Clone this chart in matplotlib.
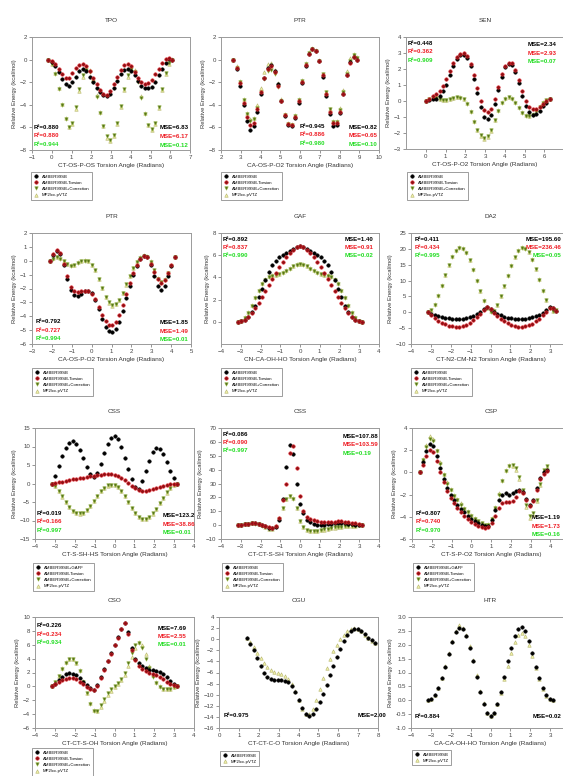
import matplotlib
matplotlib.use('Agg')
import matplotlib.pyplot as plt

plt.rcParams['font.family'] = ['Liberation Sans', 'DejaVu Sans']

# ---------------- data (torsion angle in radians, energy in kcal/mol) ----------------
x_pi = [-3.14, -2.97, -2.79, -2.62, -2.44, -2.27, -2.09, -1.92, -1.75, -1.57, -1.40, -1.22,
        -1.05, -0.87, -0.70, -0.52, -0.35, -0.17, 0.00, 0.17, 0.35, 0.52, 0.70, 0.87, 1.05,
        1.22, 1.40, 1.57, 1.75, 1.92, 2.09, 2.27, 2.44, 2.62, 2.79, 2.97, 3.14]

tpo_x = [-0.17, 0.00, 0.17, 0.35, 0.52, 0.70, 0.87, 1.05, 1.22, 1.40, 1.57, 1.75, 1.92, 2.09,
         2.27, 2.44, 2.62, 2.79, 2.97, 3.14, 3.32, 3.49, 3.67, 3.84, 4.01, 4.19, 4.36, 4.54,
         4.71, 4.89, 5.06, 5.24, 5.41, 5.59, 5.76, 5.93, 6.11]
tpo_amber = [0.0, -0.2, -0.6, -1.1, -1.7, -2.2, -2.3, -2.0, -1.5, -1.0, -0.85, -1.0, -1.5, -2.0,
             -2.5, -2.9, -3.15, -3.25, -3.0, -2.5, -1.9, -1.3, -0.95, -0.85, -1.0, -1.4, -1.9,
             -2.3, -2.5, -2.55, -2.45, -2.0, -1.4, -0.8, -0.3, 0.05, -0.05]
tpo_tors = [0.0, -0.1, -0.4, -0.8, -1.3, -1.65, -1.6, -1.2, -0.75, -0.45, -0.35, -0.55, -1.0,
            -1.6, -2.2, -2.7, -3.05, -3.1, -2.8, -2.2, -1.5, -0.9, -0.45, -0.35, -0.6, -1.1,
            -1.6, -2.0, -2.15, -2.1, -1.8, -1.3, -0.8, -0.3, 0.05, 0.15, 0.0]
tpo_corr = [0.0, -0.4, -1.3, -2.6, -4.0, -5.3, -6.0, -5.6, -4.2, -2.6, -1.4, -0.9, -1.1, -2.0,
            -3.3, -4.7, -5.9, -6.8, -7.1, -6.7, -5.6, -4.1, -2.6, -1.4, -0.85, -1.1, -2.0, -3.4,
            -4.8, -5.8, -6.1, -5.6, -4.2, -2.6, -1.2, -0.3, 0.0]
tpo_mp2 = [0.0, -0.35, -1.2, -2.5, -3.9, -5.2, -6.0, -5.7, -4.4, -2.8, -1.5, -0.8, -0.9, -1.8,
           -3.1, -4.6, -5.9, -6.9, -7.2, -6.8, -5.7, -4.2, -2.7, -1.5, -0.8, -0.9, -1.8, -3.2,
           -4.7, -5.8, -6.2, -5.7, -4.3, -2.7, -1.3, -0.35, 0.05]

ptr_x = [2.62, 2.79, 2.97, 3.14, 3.32, 3.49, 3.67, 3.84, 4.01, 4.19, 4.36, 4.54, 4.71, 4.89,
         5.06, 5.24, 5.41, 5.59, 5.76, 5.93, 6.11, 6.28, 6.46, 6.63, 6.81, 6.98, 7.16, 7.33,
         7.50, 7.68, 7.85, 8.03, 8.20, 8.38, 8.55, 8.73, 8.90]
ptr_amber = [0.0, -0.8, -2.3, -4.0, -5.4, -6.2, -5.9, -4.6, -3.0, -1.6, -0.7, -0.5, -1.0, -2.2,
             -3.7, -5.0, -5.8, -5.9, -5.2, -3.8, -2.1, -0.6, 0.5, 0.95, 0.8, -0.1, -1.5, -3.2,
             -4.8, -5.9, -5.8, -4.7, -3.0, -1.4, -0.2, 0.2, 0.0]
ptr_tors = [0.0, -0.7, -2.1, -3.8, -5.1, -5.8, -5.6, -4.4, -2.9, -1.6, -0.8, -0.6, -1.1, -2.3,
            -3.7, -4.9, -5.7, -5.8, -5.1, -3.7, -2.0, -0.5, 0.5, 0.9, 0.75, -0.1, -1.4, -3.0,
            -4.6, -5.6, -5.6, -4.6, -3.0, -1.4, -0.3, 0.2, 0.0]
ptr_corr = [0.0, -0.7, -2.0, -3.6, -4.8, -5.4, -5.3, -4.3, -2.9, -1.7, -1.0, -0.9, -1.3, -2.4,
            -3.7, -4.9, -5.7, -5.8, -5.0, -3.6, -1.9, -0.4, 0.6, 0.95, 0.8, -0.1, -1.3, -2.9,
            -4.4, -5.5, -5.5, -4.5, -2.9, -1.3, -0.1, 0.4, 0.1]
ptr_mp2 = [0.0, -0.6, -1.9, -3.5, -4.7, -5.3, -5.2, -4.0, -2.5, -1.1, -0.4, -0.3, -0.9, -2.1,
           -3.5, -4.8, -5.6, -5.7, -4.9, -3.5, -1.8, -0.3, 0.7, 1.0, 0.85, 0.0, -1.3, -2.9,
           -4.4, -5.4, -5.4, -4.3, -2.7, -1.0, 0.1, 0.5, 0.2]

sen_x = [0.00, 0.17, 0.35, 0.52, 0.70, 0.87, 1.05, 1.22, 1.40, 1.57, 1.75, 1.92, 2.09, 2.27,
         2.44, 2.62, 2.79, 2.97, 3.14, 3.32, 3.49, 3.67, 3.84, 4.01, 4.19, 4.36, 4.54, 4.71,
         4.89, 5.06, 5.24, 5.41, 5.59, 5.76, 5.93, 6.11, 6.28]
sen_amber = [0.0, 0.05, 0.1, 0.15, 0.3, 0.6, 1.0, 1.6, 2.2, 2.6, 2.85, 2.9, 2.7, 2.2, 1.4, 0.5,
             -0.4, -1.0, -1.15, -0.9, -0.2, 0.7, 1.5, 2.1, 2.3, 2.25, 1.8, 1.1, 0.3, -0.3,
             -0.7, -0.85, -0.8, -0.6, -0.3, -0.1, 0.1]
sen_tors = [0.0, 0.15, 0.3, 0.45, 0.65, 0.95, 1.35, 1.9, 2.4, 2.75, 2.95, 3.0, 2.8, 2.3, 1.6,
            0.8, 0.0, -0.55, -0.7, -0.5, 0.1, 0.9, 1.7, 2.2, 2.4, 2.35, 1.95, 1.3, 0.6, 0.0,
            -0.35, -0.5, -0.5, -0.4, -0.2, 0.0, 0.1]
sen_corr = [0.0, 0.1, 0.2, 0.2, 0.12, 0.05, 0.05, 0.1, 0.18, 0.22, 0.2, 0.1, -0.2, -0.7, -1.3,
            -1.8, -2.15, -2.3, -2.2, -1.8, -1.2, -0.6, -0.1, 0.15, 0.22, 0.15, -0.1, -0.45,
            -0.75, -0.92, -0.95, -0.85, -0.6, -0.35, -0.1, 0.05, 0.12]
sen_mp2 = [0.0, 0.12, 0.22, 0.22, 0.15, 0.07, 0.06, 0.12, 0.2, 0.25, 0.22, 0.12, -0.15, -0.65,
           -1.25, -1.8, -2.2, -2.35, -2.25, -1.85, -1.2, -0.55, -0.05, 0.2, 0.25, 0.18, -0.05,
           -0.4, -0.7, -0.9, -0.95, -0.8, -0.55, -0.3, -0.05, 0.08, 0.15]

ptr2_x = [-2.09, -1.92, -1.75, -1.57, -1.40, -1.22, -1.05, -0.87, -0.70, -0.52, -0.35, -0.17,
          0.00, 0.17, 0.35, 0.52, 0.70, 0.87, 1.05, 1.22, 1.40, 1.57, 1.75, 1.92, 2.09, 2.27,
          2.44, 2.62, 2.79, 2.97, 3.14, 3.32, 3.49, 3.67, 3.84, 4.01, 4.19]
ptr2_amber = [0.0, 0.45, 0.7, 0.5, -0.3, -1.3, -2.1, -2.45, -2.55, -2.4, -2.2, -2.15, -2.35,
              -2.8, -3.5, -4.2, -4.75, -5.05, -5.1, -4.9, -4.4, -3.6, -2.7, -1.8, -1.0, -0.35,
              0.1, 0.35, 0.3, -0.3, -1.1, -1.8, -2.1, -1.8, -1.1, -0.4, 0.25]
ptr2_tors = [0.0, 0.5, 0.75, 0.55, -0.2, -1.1, -1.9, -2.2, -2.25, -2.2, -2.15, -2.2, -2.4,
             -2.75, -3.3, -3.9, -4.35, -4.6, -4.6, -4.4, -3.9, -3.2, -2.4, -1.6, -0.9, -0.3,
             0.15, 0.35, 0.3, -0.2, -0.8, -1.35, -1.6, -1.4, -0.9, -0.3, 0.25]
ptr2_corr = [0.0, 0.15, 0.25, 0.15, -0.05, -0.25, -0.35, -0.3, -0.15, -0.05, 0.0, -0.05, -0.3,
             -0.7, -1.3, -1.95, -2.6, -3.0, -3.2, -3.1, -2.8, -2.3, -1.7, -1.1, -0.55, -0.1,
             0.2, 0.35, 0.3, -0.1, -0.7, -1.3, -1.55, -1.4, -0.9, -0.35, 0.25]
ptr2_mp2 = [0.0, 0.18, 0.28, 0.18, -0.02, -0.22, -0.32, -0.28, -0.12, -0.02, 0.02, -0.03, -0.28,
            -0.68, -1.28, -1.95, -2.6, -3.05, -3.25, -3.15, -2.85, -2.35, -1.75, -1.1, -0.5,
            -0.05, 0.25, 0.4, 0.35, -0.05, -0.65, -1.25, -1.5, -1.35, -0.85, -0.3, 0.3]

gaf_amber = [0.0, 0.05, 0.2, 0.45, 0.85, 1.4, 2.2, 3.0, 3.8, 4.5, 5.1, 5.5, 5.8, 6.0, 6.2, 6.4,
             6.6, 6.75, 6.8, 6.75, 6.6, 6.4, 6.2, 6.0, 5.8, 5.5, 5.1, 4.5, 3.8, 3.0, 2.2, 1.4,
             0.85, 0.45, 0.2, 0.05, 0.0]
gaf_tors = [0.0, 0.05, 0.2, 0.45, 0.8, 1.2, 1.7, 2.2, 2.75, 3.35, 3.9, 4.4, 4.9, 5.4, 5.85, 6.2,
            6.5, 6.7, 6.8, 6.7, 6.5, 6.2, 5.85, 5.4, 4.9, 4.4, 3.9, 3.35, 2.75, 2.2, 1.7, 1.2,
            0.8, 0.45, 0.2, 0.05, 0.0]
gaf_corr = [0.0, 0.1, 0.35, 0.8, 1.4, 2.1, 2.8, 3.4, 3.8, 4.0, 4.1, 4.2, 4.3, 4.4, 4.6, 4.8,
            5.0, 5.15, 5.2, 5.15, 5.0, 4.8, 4.6, 4.4, 4.3, 4.2, 4.1, 4.0, 3.8, 3.4, 2.8, 2.1,
            1.4, 0.8, 0.35, 0.1, 0.0]
gaf_mp2 = [0.0, 0.1, 0.4, 0.85, 1.5, 2.2, 2.9, 3.5, 3.9, 4.1, 4.2, 4.25, 4.3, 4.45, 4.65, 4.85,
           5.05, 5.2, 5.25, 5.2, 5.05, 4.85, 4.65, 4.45, 4.3, 4.25, 4.2, 4.1, 3.9, 3.5, 2.9,
           2.2, 1.5, 0.85, 0.4, 0.1, 0.0]

da2_x = [-3.14, -2.97, -2.79, -2.62, -2.44, -2.27, -2.09, -1.92, -1.75, -1.57, -1.40, -1.22,
         -1.05, -0.87, -0.70, -0.52, -0.35, -0.17, 0.00, 0.17, 0.35, 0.52, 0.70, 0.87, 1.05,
         1.22, 1.40, 1.57, 1.75, 1.92, 2.09, 2.27, 2.44, 2.62, 2.79, 2.97, 3.14, 3.32]
da2_amber = [0.0, -0.45, -0.85, -1.2, -1.5, -1.75, -1.95, -2.1, -2.2, -2.2, -2.1, -1.9, -1.6,
             -1.15, -0.6, 0.1, 0.9, 1.8, 1.0, 0.1, -0.5, -1.0, -1.4, -1.7, -1.95, -2.1, -2.2,
             -2.2, -2.1, -1.9, -1.6, -1.2, -0.7, -0.1, 0.7, 1.6, 1.4, 0.5]
da2_tors = [0.0, -0.9, -1.8, -2.6, -3.3, -3.8, -4.2, -4.45, -4.55, -4.5, -4.3, -3.9, -3.3, -2.5,
            -1.6, -0.5, 0.6, 1.7, 1.0, -0.1, -1.1, -2.0, -2.8, -3.4, -3.9, -4.3, -4.5, -4.55,
            -4.4, -4.1, -3.6, -2.9, -2.0, -1.0, 0.2, 1.5, 1.3, 0.4]
da2_corr = [0.0, 0.6, 2.4, 5.2, 8.4, 11.7, 14.9, 17.5, 19.4, 20.3, 20.0, 18.7, 16.4, 13.4, 10.0,
            6.6, 3.6, 1.3, 0.2, 0.5, 2.2, 5.0, 8.2, 11.5, 14.7, 17.3, 19.3, 20.3, 20.1, 18.9,
            16.6, 13.6, 10.2, 6.8, 3.8, 1.5, 0.3, 0.6]
da2_mp2 = [0.0, 0.7, 2.6, 5.4, 8.6, 11.9, 15.0, 17.7, 19.6, 20.5, 20.2, 18.9, 16.6, 13.6, 10.2,
           6.8, 3.8, 1.5, 0.3, 0.6, 2.4, 5.2, 8.4, 11.7, 14.9, 17.5, 19.5, 20.5, 20.3, 19.1,
           16.8, 13.8, 10.4, 7.0, 4.0, 1.7, 0.4, 0.7]

css_amber = [0.0, 2.0, 4.7, 7.4, 9.6, 11.0, 11.5, 10.8, 9.1, 6.8, 4.4, 2.5, 1.7, 2.9, 5.4, 8.3,
             10.8, 12.4, 12.8, 12.0, 9.9, 7.0, 3.9, 1.1, -1.0, -1.4, 0.6, 3.4, 6.2, 8.4, 9.5,
             9.3, 7.9, 5.8, 3.5, 1.4, 0.0]
css_tors = [0.0, 0.15, 0.3, 0.5, 0.7, 0.9, 1.1, 1.3, 1.45, 1.6, 1.75, 1.9, 2.05, 2.2, 2.35,
            2.45, 2.5, 2.45, 2.3, 2.0, 1.5, 0.9, 0.2, -0.6, -1.3, -1.8, -2.0, -2.0, -1.8, -1.5,
            -1.2, -0.9, -0.6, -0.4, -0.2, -0.1, 0.0]
css_corr = [0.0, -0.7, -2.0, -3.5, -5.0, -6.3, -7.3, -7.9, -8.1, -7.9, -7.2, -6.1, -4.8, -3.4,
            -2.1, -1.1, -0.5, -0.3, -0.45, -1.0, -2.0, -3.4, -5.0, -6.6, -8.0, -9.0, -9.6,
            -9.6, -9.1, -8.1, -6.8, -5.3, -3.8, -2.4, -1.2, -0.4, 0.0]
css_mp2 = [0.0, -0.75, -2.05, -3.55, -5.05, -6.35, -7.35, -7.95, -8.15, -7.95, -7.25, -6.15,
           -4.85, -3.45, -2.15, -1.15, -0.55, -0.3, -0.45, -1.05, -2.05, -3.45, -5.05, -6.65,
           -8.05, -9.05, -9.65, -9.65, -9.15, -8.15, -6.85, -5.35, -3.85, -2.45, -1.25, -0.45,
           0.0]

css2_amber = [0.0, 0.2, 0.5, 0.9, 1.2, 1.2, 0.9, 0.2, -0.8, -1.8, -2.2, -1.0, 4.0, 19.0, 42.0,
              58.0, 51.0, 30.0, 15.0, 9.0, 4.0, 2.0, 0.8, 0.4, 0.3, 0.4, 0.6, 0.9, 1.2, 1.4,
              1.4, 1.3, 1.0, 0.7, 0.4, 0.2, 0.0]
css2_tors = [0.0, 0.3, 0.7, 1.1, 1.4, 1.4, 1.1, 0.4, -0.6, -1.5, -1.8, -0.5, 5.0, 18.0, 30.0,
             52.0, 57.0, 41.0, 21.0, 10.5, 6.0, 4.5, 3.6, 3.0, 2.6, 2.4, 2.3, 2.4, 2.6, 2.8,
             2.8, 2.6, 2.2, 1.7, 1.2, 0.6, 0.1]
css2_corr = [0.0, 0.3, 0.6, 1.0, 1.2, 1.1, 0.6, -0.3, -1.5, -2.6, -2.9, -1.0, 4.5, 12.0, 18.5,
             21.0, 19.0, 12.0, 3.0, -1.5, -3.5, -4.3, -4.4, -4.1, -3.6, -3.1, -2.6, -2.1,
             -1.7, -1.3, -1.0, -0.8, -0.6, -0.4, -0.3, -0.1, 0.0]
css2_mp2 = [0.0, 0.3, 0.7, 1.0, 1.3, 1.2, 0.7, -0.2, -1.4, -2.5, -2.8, -0.8, 5.0, 12.5, 19.0,
            21.3, 19.2, 12.0, 2.8, -1.7, -3.6, -4.4, -4.5, -4.2, -3.7, -3.2, -2.7, -2.2, -1.8,
            -1.4, -1.1, -0.9, -0.7, -0.5, -0.3, -0.15, 0.0]

csp_x = [-2.62, -2.44, -2.27, -2.09, -1.92, -1.75, -1.57, -1.40, -1.22, -1.05, -0.87, -0.70,
         -0.52, -0.35, -0.17, 0.00, 0.17, 0.35, 0.52, 0.70, 0.87, 1.05, 1.22, 1.40, 1.57, 1.75,
         1.92, 2.09, 2.27, 2.44, 2.62, 2.79, 2.97, 3.14, 3.32, 3.49, 3.67, 3.84]
csp_amber = [0.0, 0.9, 1.9, 2.6, 2.4, 1.5, 0.4, -0.6, -1.4, -2.0, -2.5, -2.9, -3.3, -3.6, -3.9,
             -4.2, -4.4, -4.6, -4.75, -4.85, -4.8, -4.3, -3.4, -2.5, -2.0, -1.9, -2.0, -1.9,
             -1.7, -1.6, -1.8, -2.4, -2.9, -2.5, -1.4, -0.5, 0.0, 0.2]
csp_tors = [0.0, 0.7, 1.5, 2.0, 1.8, 1.0, 0.0, -0.9, -1.7, -2.3, -2.8, -3.2, -3.6, -3.9, -4.2,
            -4.45, -4.65, -4.8, -4.9, -5.0, -4.95, -4.6, -3.9, -3.2, -2.8, -2.7, -2.7, -2.6,
            -2.2, -1.7, -1.9, -2.5, -3.0, -2.6, -1.6, -0.6, -0.1, 0.1]
csp_corr = [0.0, 1.1, 2.3, 3.0, 2.8, 1.9, 0.8, -0.2, -1.0, -1.6, -2.1, -2.5, -2.9, -3.3, -3.6,
            -3.9, -4.2, -4.4, -4.6, -4.75, -4.7, -4.2, -3.2, -2.0, -0.8, 0.1, 0.6, 0.7, 0.4,
            -0.4, -1.6, -2.9, -3.9, -3.7, -2.5, -1.0, 0.2, 0.6]
csp_mp2 = [0.0, 1.2, 2.5, 3.3, 3.0, 2.0, 0.9, -0.1, -0.9, -1.5, -2.0, -2.4, -2.8, -3.2, -3.5,
           -3.8, -4.1, -4.35, -4.55, -4.7, -4.65, -4.1, -3.1, -1.9, -0.7, 0.2, 0.65, 0.6, 0.2,
           -0.6, -1.8, -3.1, -4.1, -3.8, -2.6, -1.1, 0.1, 0.5]

cso_amber = [0.0, 0.4, 0.9, 1.4, 1.75, 1.9, 1.85, 1.6, 1.2, 0.7, 0.2, -0.3, -0.5, 0.2, 1.3, 2.5,
             3.7, 4.8, 6.0, 7.1, 8.2, 9.2, 7.8, 5.5, 4.0, 3.3, 2.9, 2.6, 2.4, 2.3, 2.2, 2.1,
             1.8, 1.3, 0.8, 0.3, 0.0]
cso_tors = [0.0, 0.3, 0.6, 0.9, 1.1, 1.2, 1.15, 1.0, 0.7, 0.3, -0.1, -0.4, -0.5, 0.1, 1.2, 2.4,
            3.6, 4.7, 5.9, 7.0, 8.2, 9.1, 7.6, 5.3, 3.8, 3.0, 2.5, 2.2, 2.0, 1.8, 1.6, 1.3,
            1.0, 0.7, 0.4, 0.2, 0.0]
cso_corr = [0.0, 0.6, 1.5, 2.5, 3.4, 3.9, 3.9, 3.3, 2.2, 0.7, -1.0, -2.5, -3.5, -3.5, -2.7,
            -1.8, -1.0, -0.4, 0.1, 0.5, 1.1, 2.0, 3.3, 4.8, 6.0, 6.3, 5.5, 4.0, 2.6, 1.4, 0.5,
            -0.1, -0.4, -0.45, -0.35, -0.15, 0.0]
cso_mp2 = [0.0, 0.6, 1.5, 2.6, 3.5, 4.0, 4.0, 3.4, 2.3, 0.8, -0.9, -2.4, -3.4, -3.6, -3.0, -2.1,
           -1.2, -0.6, -0.1, 0.4, 0.9, 1.7, 2.9, 4.3, 5.6, 6.4, 6.0, 4.6, 3.0, 1.7, 0.7, 0.0,
           -0.35, -0.45, -0.35, -0.15, 0.0]

cgu_x = [1.40, 1.57, 1.75, 1.92, 2.09, 2.27, 2.44, 2.62, 2.79, 2.97, 3.14, 3.32, 3.49, 3.67,
         3.84, 4.01, 4.19, 4.36, 4.54, 4.71, 4.89, 5.06, 5.24, 5.41, 5.59, 5.76, 5.93, 6.11,
         6.28, 6.46, 6.63, 6.81, 6.98, 7.16, 7.33, 7.50, 7.68, 7.85]
cgu_amber = [0.2, -0.8, -2.0, -3.4, -4.8, -6.0, -6.8, -7.2, -7.4, -7.4, -7.4, -7.5, -7.8, -8.5,
             -9.6, -11.0, -12.4, -13.4, -13.8, -13.5, -12.6, -11.3, -9.8, -8.2, -6.5, -4.8,
             -3.2, -1.7, -0.4, 0.7, 1.5, 1.9, 1.8, 1.4, 0.9, 0.3, -0.2, -0.6]
cgu_mp2 = [0.3, -0.5, -1.4, -2.4, -3.4, -4.3, -5.0, -5.5, -5.9, -6.1, -6.3, -6.6, -7.1, -8.0,
           -9.4, -11.0, -12.5, -13.4, -13.5, -12.6, -11.0, -9.0, -7.0, -5.2, -3.6, -2.2, -1.0,
           0.0, 0.8, 1.4, 1.8, 2.0, 1.8, 1.4, 0.8, 0.2, -0.3, -0.7]

htr_amber = [0.0, 0.05, 0.2, 0.45, 0.8, 1.2, 1.65, 2.1, 2.45, 2.62, 2.55, 2.3, 1.9, 1.4, 0.85,
             0.3, -0.15, -0.45, -0.55, -0.45, -0.15, 0.3, 0.85, 1.4, 1.9, 2.3, 2.55, 2.65, 2.5,
             2.15, 1.7, 1.2, 0.8, 0.45, 0.2, 0.05, 0.0]
htr_mp2 = [0.0, 0.05, 0.2, 0.45, 0.8, 1.25, 1.7, 2.15, 2.5, 2.7, 2.6, 2.35, 1.95, 1.45, 0.9,
           0.35, -0.1, -0.45, -0.55, -0.45, -0.15, 0.25, 0.75, 1.25, 1.7, 2.1, 2.35, 2.42, 2.3,
           2.0, 1.6, 1.15, 0.75, 0.4, 0.15, 0.05, 0.0]

NAMES = ['AMBER99SB', 'AMBER99SB-Torsion', 'AMBER99SB+Correction', 'MP2/cc-pVTZ']
NAMES_GAFF = ['AMBER99SB+GAFF', 'AMBER99SB-Torsion', 'AMBER99SB+Correction', 'MP2/cc-pVTZ']
KEYS4 = ['amber', 'tors', 'corr', 'mp2']

# ---------------- styles ----------------
STYLE = {
    'amber': dict(marker='o', mfc='black', mec='black', zorder=3),
    'tors': dict(marker='o', mfc='#8e1014', mec='#e3262e', zorder=4),
    'corr': dict(marker='v', mfc='#55721c', mec='#8fb03c', zorder=2),
    'mp2': dict(marker='^', mfc='#efefa8', mec='#b4b46c', zorder=1),
}
STAT_COLORS = ['black', '#ee1c24', '#22dd22']

# mse_at: (x, y) in axes fraction, left aligned; mse_right: right edge in figure pixels
panels = [
    dict(title='TPO', x=tpo_x, ys=[tpo_amber, tpo_tors, tpo_corr, tpo_mp2], keys=KEYS4, names=NAMES,
         xlim=(-1, 7), xticks=range(-1, 8), ylim=(-8, 2), yticks=range(-8, 3, 2),
         xlabel='CT-OS-P-OS Torsion Angle (Radians)',
         r2=['0.880', '0.880', '0.944'], mse=['6.83', '6.17', '0.12'],
         r2_at=(0.01, 0.20), mse_at=(0.81, 0.195), box=(32, 37, 190, 150), leg=(31, 172)),
    dict(title='PTR', x=ptr_x, ys=[ptr_amber, ptr_tors, ptr_corr, ptr_mp2], keys=KEYS4, names=NAMES,
         xlim=(2, 10), xticks=range(2, 11), ylim=(-8, 2), yticks=range(-8, 3, 2),
         xlabel='CA-OS-P-O2 Torsion Angle (Radians)',
         r2=['0.945', '0.886', '0.980'], mse=['0.82', '0.65', '0.10'],
         r2_at=(0.50, 0.21), mse_at=(0.81, 0.20), box=(221, 37, 379, 150), leg=(221, 172)),
    dict(title='SEN', x=sen_x, ys=[sen_amber, sen_tors, sen_corr, sen_mp2], keys=KEYS4, names=NAMES,
         xlim=(-1, 7), xticks=range(0, 7), ylim=(-3, 4), yticks=range(-3, 5),
         xlabel='CT-OS-P-O2 Torsion Angle (Radians)',
         r2=['0.448', '0.362', '0.909'], mse=['2.34', '2.93', '0.07'],
         r2_at=(0.01, 0.945), mse_at=(0.77, 0.93), box=(406, 37, 564, 149), leg=(407, 172)),
    dict(title='PTR', x=ptr2_x, ys=[ptr2_amber, ptr2_tors, ptr2_corr, ptr2_mp2], keys=KEYS4, names=NAMES,
         xlim=(-3, 5), xticks=range(-3, 6), ylim=(-6, 2), yticks=range(-6, 3),
         xlabel='CA-OS-P-O2 Torsion Angle (Radians)',
         r2=['0.792', '0.727', '0.994'], mse=['1.85', '1.49', '0.01'],
         r2_at=(0.02, 0.20), mse_at=(0.80, 0.19), box=(32, 233, 191, 344), leg=(32, 368)),
    dict(title='GAF', x=x_pi, ys=[gaf_amber, gaf_tors, gaf_corr, gaf_mp2], keys=KEYS4, names=NAMES,
         xlim=(-4, 4), xticks=range(-4, 5), ylim=(-2, 8), yticks=range(0, 9, 2),
         xlabel='CN-CA-OH-HO Torsion Angle (Radians)',
         r2=['0.892', '0.837', '0.990'], mse=['1.40', '0.91', '0.02'],
         r2_at=(0.01, 0.945), mse_at=(0.78, 0.945), box=(221, 233, 379, 344), leg=(221, 368)),
    dict(title='DA2', x=da2_x, ys=[da2_amber, da2_tors, da2_corr, da2_mp2], keys=KEYS4, names=NAMES,
         xlim=(-4, 4), xticks=range(-4, 4), ylim=(-10, 25), yticks=range(-10, 26, 5),
         xlabel='CT-N2-CM-N2 Torsion Angle (Radians)',
         r2=['0.411', '0.434', '0.995'], mse=['195.60', '236.46', '0.05'],
         r2_at=(0.02, 0.945), mse_at=(0.77, 0.945), mse_right=561,
         box=(411, 233, 570, 344), leg=(411, 368)),
    dict(title='CSS', x=x_pi, ys=[css_amber, css_tors, css_corr, css_mp2], keys=KEYS4, names=NAMES_GAFF,
         xlim=(-4, 4), xticks=range(-4, 5), ylim=(-15, 15), yticks=range(-15, 16, 5),
         xlabel='CT-S-SH-HS Torsion Angle (Radians)',
         r2=['0.019', '0.166', '0.997'], mse=['123.2', '38.86', '0.01'],
         r2_at=(0.01, 0.23), mse_at=(0.80, 0.21), box=(35, 428, 194, 539), leg=(33, 563)),
    dict(title='CSS', x=x_pi, ys=[css2_amber, css2_tors, css2_corr, css2_mp2], keys=KEYS4, names=NAMES,
         xlim=(-4, 4), xticks=range(-4, 5), ylim=(-10, 70), yticks=range(-10, 71, 10),
         xlabel='CT-CT-S-SH Torsion Angle (Radians)',
         r2=['0.086', '0.090', '0.997'], mse=['107.88', '103.59', '0.19'],
         r2_at=(0.01, 0.945), mse_at=(0.77, 0.925), box=(221, 428, 379, 539), leg=(222, 563)),
    dict(title='CSP', x=csp_x, ys=[csp_amber, csp_tors, csp_corr, csp_mp2], keys=KEYS4, names=NAMES_GAFF,
         xlim=(-3, 5), xticks=range(-3, 5), ylim=(-6, 4), yticks=range(-6, 5, 2),
         xlabel='CT-S-P-O2 Torsion Angle (Radians)',
         r2=['0.807', '0.740', '0.970'], mse=['1.19', '1.73', '0.16'],
         r2_at=(0.02, 0.23), mse_at=(0.80, 0.19), mse_right=561,
         box=(412, 428, 570, 539), leg=(413, 563)),
    dict(title='CSO', x=x_pi, ys=[cso_amber, cso_tors, cso_corr, cso_mp2], keys=KEYS4, names=NAMES,
         xlim=(-4, 4), xticks=range(-4, 5), ylim=(-6, 10), yticks=range(-6, 11, 2),
         xlabel='CT-CT-S-OH Torsion Angle (Radians)',
         r2=['0.226', '0.234', '0.934'], mse=['7.69', '2.55', '0.01'],
         r2_at=(0.01, 0.92), mse_at=(0.77, 0.90), box=(35, 617, 194, 728), leg=(32, 748)),
    dict(title='CGU', x=cgu_x, ys=[cgu_amber, cgu_mp2], keys=['amber', 'mp2'],
         names=['AMBER99SB', 'MP2/cc-pVTZ'],
         xlim=(0, 8), xticks=range(0, 9), ylim=(-16, 4), yticks=range(-16, 5, 2),
         xlabel='CT-CT-C-O Torsion Angle (Radians)',
         r2=['0.975'], mse=['2.00'],
         r2_at=(0.03, 0.11), mse_at=(0.87, 0.11), box=(219, 617, 378, 728), leg=(220, 751)),
    dict(title='HTR', x=x_pi, ys=[htr_amber, htr_mp2], keys=['amber', 'mp2'],
         names=['AMBER99SB', 'MP2/cc-pVTZ'],
         xlim=(-4, 4), xticks=range(-4, 4), ylim=(-1, 3),
         yticks=[-1.0, -0.5, 0.0, 0.5, 1.0, 1.5, 2.0, 2.5, 3.0],
         xlabel='CA-CA-OH-HO Torsion Angle (Radians)', yfmt='{:.1f}',
         r2=['0.884'], mse=['0.02'],
         r2_at=(0.025, 0.10), mse_at=(0.86, 0.10), mse_right=561,
         box=(411, 617, 570, 728), leg=(412, 750)),
]

W, H = 563, 776
fig = plt.figure(figsize=(W / 100, H / 100), dpi=100)
fig.patch.set_facecolor('white')

for p in panels:
    l, t, r, b = p['box']
    ax = fig.add_axes([l / W, 1 - b / H, (r - l) / W, (b - t) / H])
    for key, name, ys in zip(p['keys'], p['names'], p['ys']):
        ax.plot(p['x'], ys, ls='none', ms=2.5, mew=0.4, label=name, **STYLE[key])
    ax.set_xlim(*p['xlim'])
    ax.set_ylim(*p['ylim'])
    ax.set_xticks(list(p['xticks']))
    ax.set_yticks(list(p['yticks']))
    if 'yfmt' in p:
        ax.set_yticklabels([p['yfmt'].format(v) for v in p['yticks']])
    ax.tick_params(labelsize=4.4, length=2, width=0.4, direction='out',
                   colors='#444444', pad=1.5)
    for s in ax.spines.values():
        s.set_color('#9a9a9a')
        s.set_linewidth(0.7)
    ax.set_title(p['title'], fontsize=4.6, pad=11, color='#333333')
    ax.set_xlabel(p['xlabel'], fontsize=4.6, labelpad=2.5, color='#333333')
    ax.set_ylabel('Relative Energy (kcal/mol)', fontsize=4.2, labelpad=2, color='#333333')

    # fit statistics
    dy = 0.076
    for i, (v, c) in enumerate(zip(p['r2'], STAT_COLORS)):
        ax.text(p['r2_at'][0], p['r2_at'][1] - i * dy, 'R\u00b2=' + v, transform=ax.transAxes,
                fontsize=4.4, fontweight='bold', color=c, ha='left', va='center')
    if 'mse_right' in p:
        mx, mha = (p['mse_right'] - l) / (r - l), 'right'
    else:
        mx, mha = p['mse_at'][0], 'left'
    for i, (v, c) in enumerate(zip(p['mse'], STAT_COLORS)):
        ax.text(mx, p['mse_at'][1] - i * dy, 'MSE=' + v, transform=ax.transAxes,
                fontsize=4.4, fontweight='bold', color=c, ha=mha, va='center')

    lx, ly = p['leg']
    leg = ax.legend(loc='upper left', bbox_to_anchor=(lx / W, 1 - ly / H),
                    bbox_transform=fig.transFigure, borderaxespad=0, fontsize=3.1,
                    frameon=True, fancybox=False, edgecolor='#777777', framealpha=1,
                    handlelength=1.0, handletextpad=0.9, borderpad=0.6, labelspacing=0.5)
    leg.get_frame().set_linewidth(0.5)

fig.savefig('out.png', dpi=100)
